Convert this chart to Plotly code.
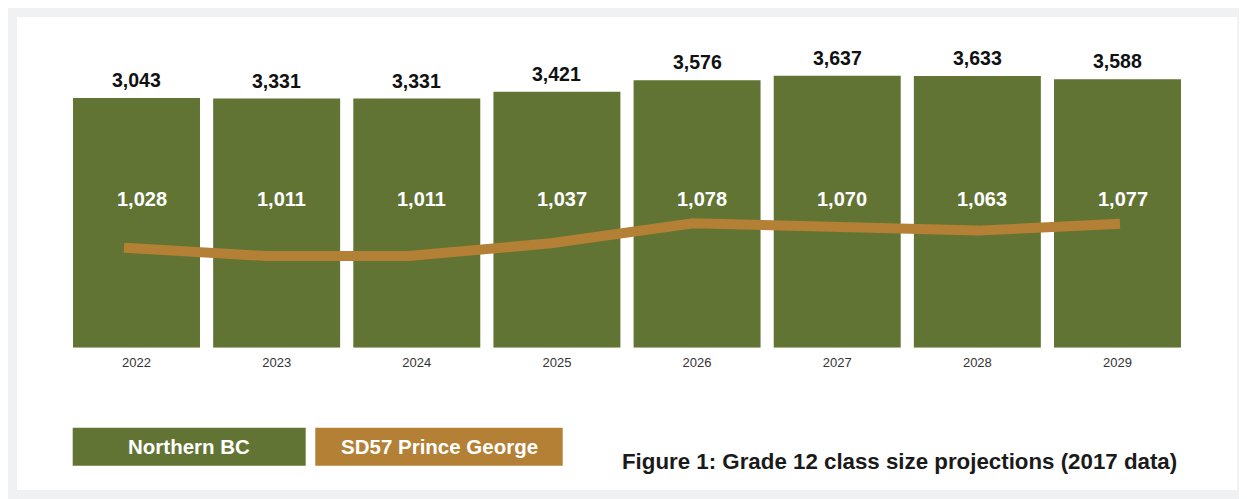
import plotly.graph_objects as go

# ---- data ----
years = ["2022", "2023", "2024", "2025", "2026", "2027", "2028", "2029"]
northern_bc = [3043, 3331, 3331, 3421, 3576, 3637, 3633, 3588]          # printed labels
northern_bc_drawn = [3340, 3331, 3331, 3421, 3576, 3637, 3633, 3588]    # bar heights as drawn
sd57 = [1028, 1011, 1011, 1037, 1078, 1070, 1063, 1077]

series_names = ["Northern BC", "SD57 Prince George"]
title_text = "Figure 1: Grade 12 class size projections (2017 data)"

GREEN = "#627433"
BROWN = "#b38035"
FRAME = "#f0f1f3"
W, H = 1247, 499
OFF = 8  # page body margin
FONT = "Liberation Sans, Arial, Helvetica, sans-serif"

def px_x(p):
    return (p - OFF) / W

def px_y(p):
    return 1 - (p - OFF) / H

fig = go.Figure()

fig.add_trace(go.Bar(
    x=years, y=northern_bc_drawn, name=series_names[0],
    marker=dict(color=GREEN, line=dict(width=0)),
    xaxis="x", yaxis="y", hoverinfo="skip", showlegend=False,
))

fig.add_trace(go.Scatter(
    x=years, y=sd57, name=series_names[1], mode="lines",
    line=dict(color=BROWN, width=10),
    xaxis="x2", yaxis="y2", hoverinfo="skip", showlegend=False,
))

annotations = []
for i, (h, lab) in enumerate(zip(northern_bc_drawn, northern_bc)):
    annotations.append(dict(
        x=i, y=h, xref="x", yref="y", text=f"{lab:,}", showarrow=False,
        yanchor="middle", yshift=18,
        font=dict(family=FONT, size=19.5, color="#111111", weight="bold"),
    ))
for i, v in enumerate(sd57):
    annotations.append(dict(
        x=i, y=px_y(199), xref="x", yref="paper", text=f"{v:,}", showarrow=False,
        yanchor="middle", xshift=5,
        font=dict(family=FONT, size=20, color="white", weight="bold"),
    ))

shapes = [
    dict(type="rect", xref="paper", yref="paper", x0=px_x(17), x1=px_x(1237),
         y0=px_y(490), y1=px_y(17), fillcolor="white", line=dict(width=0), layer="below"),
    dict(type="rect", xref="paper", yref="paper", x0=px_x(72.7), x1=px_x(305.7),
         y0=px_y(465.7), y1=px_y(427.7), fillcolor=GREEN, line=dict(width=0)),
    dict(type="rect", xref="paper", yref="paper", x0=px_x(315.3), x1=px_x(562.7),
         y0=px_y(465.7), y1=px_y(427.7), fillcolor=BROWN, line=dict(width=0)),
]
annotations.append(dict(
    x=px_x((72.7 + 305.7) / 2), y=px_y(446.7), xref="paper", yref="paper",
    text=series_names[0], showarrow=False, xanchor="center", yanchor="middle",
    font=dict(family=FONT, size=20.5, color="white", weight="bold"),
))
annotations.append(dict(
    x=px_x((315.3 + 562.7) / 2), y=px_y(446.7), xref="paper", yref="paper",
    text=series_names[1], showarrow=False, xanchor="center", yanchor="middle",
    font=dict(family=FONT, size=20.5, color="white", weight="bold"),
))
annotations.append(dict(
    x=px_x(620), y=px_y(461), xref="paper", yref="paper",
    text=title_text, showarrow=False, xanchor="left", yanchor="middle",
    font=dict(family=FONT, size=22.3, color="#1a1a1a", weight="bold"),
))

plot_top, plot_bottom = 40.0, 347.7
x_left, x_right = 66.43, 1187.57
k1 = 272.0 / 3637
y1max = (plot_bottom - plot_top) / k1
k2 = 0.488
zero2 = 256 + 1011 * k2
y2min = (zero2 - plot_bottom) / k2
y2max = (zero2 - plot_top) / k2

fig.update_layout(
    template="none",
    width=W, height=H,
    autosize=False,
    margin=dict(l=0, r=0, t=0, b=0, pad=0),
    paper_bgcolor=FRAME, plot_bgcolor="rgba(0,0,0,0)",
    bargap=0.094,
    xaxis=dict(domain=[px_x(x_left), px_x(x_right)], type="category",
               range=[-0.5, 7.5], autorange=False, automargin=False,
               showgrid=False, zeroline=False, showline=False, ticks="",
               tickfont=dict(family=FONT, size=13, color="#333333"),
               ticklabelstandoff=5),
    xaxis2=dict(domain=[px_x(x_left), px_x(x_right)], type="category",
                overlaying="x", range=[-0.4046, 7.4749], autorange=False,
                automargin=False, visible=False),
    yaxis=dict(domain=[px_y(plot_bottom), px_y(plot_top)], range=[0, y1max],
               autorange=False, automargin=False, visible=False, showgrid=False),
    yaxis2=dict(domain=[px_y(plot_bottom), px_y(plot_top)], range=[y2min, y2max],
                autorange=False, automargin=False,
                overlaying="y", visible=False, showgrid=False),
    shapes=shapes,
    annotations=annotations,
    showlegend=False,
)

fig.write_html("out.html")
